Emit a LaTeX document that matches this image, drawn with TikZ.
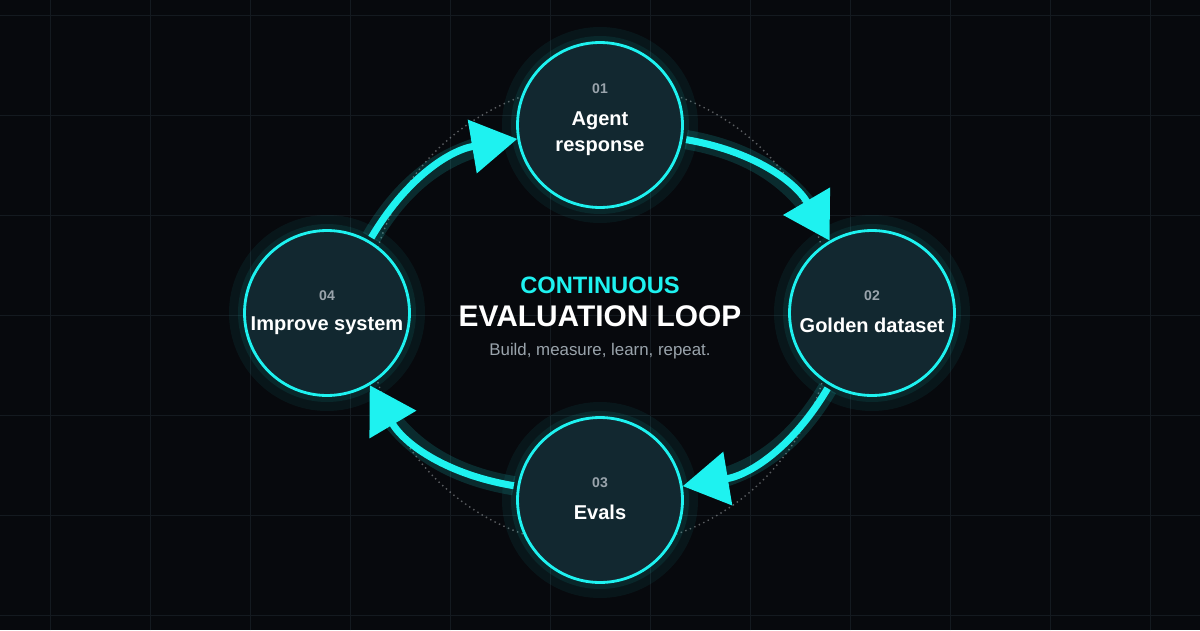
\documentclass[tikz,border=0pt]{standalone}
\usepackage{fontspec}
\setmainfont{Liberation Sans}
\usetikzlibrary{arrows.meta,positioning}
\definecolor{bgdark}{HTML}{07090D}
\definecolor{neon}{HTML}{1EF2F0}
\definecolor{stepfill}{HTML}{122830}
\definecolor{gridline}{HTML}{141A20}
\definecolor{numgray}{HTML}{9AA4AC}
\tikzset{
  stepnode/.style={circle, minimum size=3.3cm, draw=neon, line width=1.6pt, fill=stepfill},
  steplabel/.style={align=center, text=white, font=\bfseries\fontsize{11.4}{15}\selectfont},
  stepnum/.style={text=numgray, font=\bfseries\fontsize{8}{9}\selectfont},
  flow/.style={draw=neon, line width=4pt, -{Triangle[width=30pt,length=26pt]}},
  flowglow/.style={draw=neon, line width=11pt, opacity=0.15}
}
\begin{document}
\begin{tikzpicture}[x=0.02cm,y=0.02cm]
  \fill[bgdark] (0,0) rectangle (1200,630);
  \useasboundingbox (0,0) rectangle (1200,630);
  % faint grid
  \foreach \gx in {50,150,...,1150} \draw[gridline] (\gx,0) -- (\gx,630);
  \foreach \gy in {15,115,...,615} \draw[gridline] (0,\gy) -- (1200,\gy);
  % dotted ring
  \draw[numgray!40, dotted, line width=0.8pt, opacity=0.4] (600,315) circle (232);

  % steps
  \foreach \px/\py in {600/505, 872/317, 600/130, 327/317}{
    \fill[neon, opacity=0.06] (\px,\py) circle (98);
    \fill[neon, opacity=0.08] (\px,\py) circle (89);
  }
  \node[stepnode] (agent) at (600,505) {};
  \node[stepnode] (golden) at (872,317) {};
  \node[stepnode] (evals) at (600,130) {};
  \node[stepnode] (improve) at (327,317) {};
  \node[stepnum] at ([yshift=-27pt]agent.north) {01};
  \foreach \n/\t in {golden/02, evals/03, improve/04}
    \node[stepnum] at ([yshift=-38pt]\n.north) {\t};
  \node[steplabel] at ([yshift=-5pt]agent.center) {Agent\\response};
  \node[steplabel] at ([yshift=-7pt]golden.center) {Golden dataset};
  \node[steplabel] at ([yshift=-7pt]evals.center) {Evals};
  \node[steplabel] at ([yshift=-7pt]improve.center) {Improve system};

  % connectors
  \draw[flowglow, shorten <=2pt, shorten >=10pt] (agent) to[bend left=25] (golden);
  \draw[flow, shorten <=2pt] (agent) to[bend left=25] (golden);
  \draw[flowglow, shorten <=2pt, shorten >=10pt] (golden) to[bend left=25] (evals);
  \draw[flow, shorten <=2pt] (golden) to[bend left=25] (evals);
  \draw[flowglow, shorten <=2pt, shorten >=10pt] (evals) to[bend left=25] (improve);
  \draw[flow, shorten <=2pt] (evals) to[bend left=25] (improve);
  \draw[flowglow, shorten <=2pt, shorten >=10pt] (improve) to[bend left=25] (agent);
  \draw[flow, shorten <=2pt] (improve) to[bend left=25] (agent);

  % title
  \node[text=neon, font=\bfseries\fontsize{13.5}{15}\selectfont] (kicker) at (600,345) {CONTINUOUS};
  \node[text=white, font=\bfseries\fontsize{17}{19}\selectfont, below=0pt of kicker] (title) {EVALUATION LOOP};
  \node[text=numgray, font=\fontsize{9.6}{11}\selectfont, below=2pt of title] (tagline) {Build, measure, learn, repeat.};
\end{tikzpicture}
\end{document}
